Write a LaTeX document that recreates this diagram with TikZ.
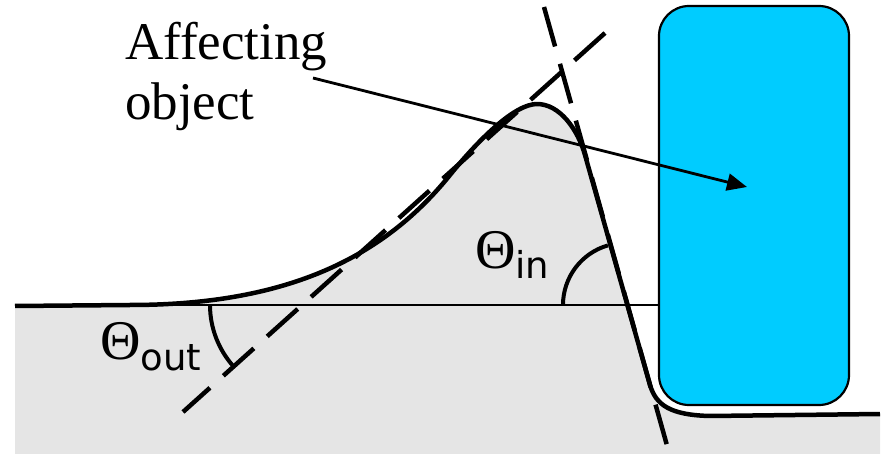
\documentclass[tikz,border=0pt]{standalone}
\usepackage{fontspec}
\setmainfont{Liberation Serif}
\newfontfamily\subfont{DejaVu Sans}
\usepackage{tikz}
\usetikzlibrary{arrows.meta}
\definecolor{objblue}{RGB}{0,204,255}
\definecolor{ground}{RGB}{229,229,229}

\begin{document}
\begin{tikzpicture}[x=1pt, y=-1pt,
  dashline/.style={line width=4.5pt, dash pattern=on 41pt off 18pt},
  profile/.style={line width=4.5pt, line join=round},
  anglearc/.style={line width=4pt},
  theta/.style={anchor=base west, inner sep=0pt, font=\fontsize{56}{56}\selectfont}]
\useasboundingbox (0,0) rectangle (884,454);
% ground under the surface
\fill[ground] (15,306) -- (130,305) .. controls (280,305) and (380,262) .. (450,175)
  .. controls (480,138) and (515,104) .. (537,104)
  .. controls (560,104) and (578,130) .. (585,155)
  -- (650,385) .. controls (656,405) and (670,415) .. (710,416) -- (880,414)
  -- (880,454) -- (15,454) -- cycle;
\draw[line width=2.2pt] (15,305) -- (659,305);
% surface profile
\draw[profile] (15,306) -- (130,305) .. controls (280,305) and (380,262) .. (450,175)
  .. controls (480,138) and (515,104) .. (537,104)
  .. controls (560,104) and (578,130) .. (585,155)
  -- (650,385) .. controls (656,405) and (670,415) .. (710,416) -- (880,414);
% tangents
\draw[dashline] (605,33) -- (183,412);
\draw[dashline] (544,7) -- (668,449);
% angles
\draw[anglearc] (563,305) arc[start angle=180, end angle=254, radius=62];
\draw[anglearc] (210,305) arc[start angle=180, end angle=138, radius=92];
\node[theta] (thetain) at (475,269) {Θ\raisebox{-10pt}{\subfont\fontsize{37}{37}\selectfont in}};
\node[theta] (thetaout) at (100,360) {Θ\raisebox{-10pt}{\subfont\fontsize{37}{37}\selectfont out}};
% object
\node[draw, line width=2.2pt, fill=objblue, rounded corners=30pt, minimum width=190pt,
  minimum height=399pt, inner sep=0pt] (obj) at (754,205.5) {};
\node[anchor=base west, align=left, inner sep=0pt, font=\fontsize{53}{60}\selectfont] (label) at (125,120) {Affecting\\object};
\coordinate (from) at (313,78);
\coordinate (tip) at (747,187);
\draw[line width=2.8pt, -{Triangle[length=20pt, width=17pt]}] (from) -- (tip);
\end{tikzpicture}
\end{document}
